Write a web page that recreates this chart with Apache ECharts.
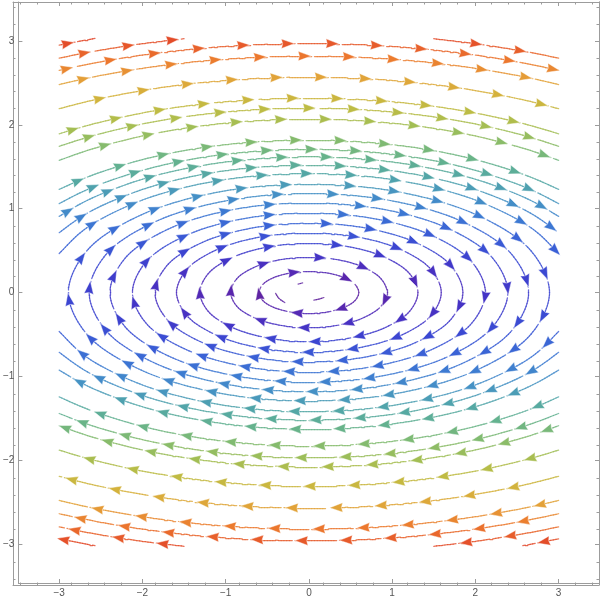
<!DOCTYPE html>
<html><head><meta charset="utf-8">
<script src="https://cdn.jsdelivr.net/npm/echarts@6/dist/echarts.min.js"></script>
<style>html,body{margin:0;padding:0;background:#fff}#c{width:600px;height:598px}</style>
</head><body><div id="c"></div>
<script>
// ---------- DATA ----------
// shared x grid for the streamlines that cross the whole plot
const XS = [-3,-2.75,-2.5,-2,-1.5,-1,-0.5,0,0.5,1,1.5,2,2.5,2.75,3];
// upper open streamlines (flow left -> right): y at XS
const upperLines = [
 [2.650,2.703,2.752,2.832,2.893,2.936,2.962,2.970,2.962,2.936,2.893,2.832,2.752,2.703,2.650],
 [2.480,2.538,2.589,2.674,2.739,2.784,2.811,2.820,2.811,2.784,2.739,2.674,2.589,2.538,2.480],
 [2.192,2.257,2.314,2.409,2.481,2.531,2.560,2.570,2.560,2.531,2.481,2.409,2.314,2.257,2.192],
 [1.893,1.967,2.033,2.141,2.221,2.276,2.309,2.320,2.309,2.276,2.221,2.141,2.033,1.967,1.893],
 [1.744,1.824,1.895,2.010,2.095,2.154,2.189,2.200,2.189,2.154,2.095,2.010,1.895,1.824,1.744],
 [1.576,1.665,1.742,1.867,1.958,2.021,2.058,2.070,2.058,2.021,1.958,1.867,1.742,1.665,1.576],
 [1.230,1.341,1.436,1.585,1.692,1.764,1.806,1.820,1.806,1.764,1.692,1.585,1.436,1.341,1.230],
 [1.060,1.188,1.294,1.457,1.573,1.650,1.695,1.710,1.695,1.650,1.573,1.457,1.294,1.188,1.060],
 [0.908,1.054,1.172,1.351,1.474,1.557,1.604,1.620,1.604,1.557,1.474,1.351,1.172,1.054,0.908],
 [0.714,0.893,1.030,1.229,1.364,1.453,1.503,1.520,1.503,1.453,1.364,1.229,1.030,0.893,0.714],
 [0.465,0.710,0.875,1.103,1.251,1.348,1.402,1.420,1.402,1.348,1.251,1.103,0.875,0.710,0.465]
];
// lower open streamlines (flow right -> left): y at XS
const lowerLines = [
 [-0.465,-0.710,-0.875,-1.103,-1.251,-1.348,-1.402,-1.420,-1.402,-1.348,-1.251,-1.103,-0.875,-0.710,-0.465],
 [-0.714,-0.893,-1.030,-1.229,-1.364,-1.453,-1.503,-1.520,-1.503,-1.453,-1.364,-1.229,-1.030,-0.893,-0.714],
 [-0.926,-1.070,-1.186,-1.363,-1.486,-1.567,-1.615,-1.630,-1.615,-1.567,-1.486,-1.363,-1.186,-1.070,-0.926],
 [-1.245,-1.355,-1.449,-1.597,-1.703,-1.775,-1.816,-1.830,-1.816,-1.775,-1.703,-1.597,-1.449,-1.355,-1.245],
 [-1.443,-1.539,-1.622,-1.755,-1.852,-1.919,-1.957,-1.970,-1.957,-1.919,-1.852,-1.755,-1.622,-1.539,-1.443],
 [-1.589,-1.677,-1.754,-1.878,-1.969,-2.031,-2.068,-2.080,-2.068,-2.031,-1.969,-1.878,-1.754,-1.677,-1.589],
 [-1.880,-1.955,-2.021,-2.130,-2.210,-2.266,-2.299,-2.310,-2.299,-2.266,-2.210,-2.130,-2.021,-1.955,-1.880],
 [-2.192,-2.257,-2.314,-2.409,-2.481,-2.531,-2.560,-2.570,-2.560,-2.531,-2.481,-2.409,-2.314,-2.257,-2.192],
 [-2.480,-2.538,-2.589,-2.674,-2.739,-2.784,-2.811,-2.820,-2.811,-2.784,-2.739,-2.674,-2.589,-2.538,-2.480],
 [-2.639,-2.692,-2.741,-2.822,-2.883,-2.926,-2.952,-2.960,-2.952,-2.926,-2.883,-2.822,-2.741,-2.692,-2.639]
];
// streamline pieces cut by the plot border (points in flow order)
const edgePieces = [
 [[-3,2.950],[-2.75,2.998],[-2.57,3.03]],
 [[-3,2.795],[-2.75,2.846],[-2.5,2.891],[-2,2.968],[-1.5,3.027]],
 [[1.5,3.027],[2,2.968],[2.5,2.891],[2.75,2.846],[3,2.795]],
 [[3,-2.938],[2.75,-2.987],[2.57,-3.02]],
 [[-2.57,-3.02],[-2.75,-2.987],[-3,-2.938]],
 [[3,-2.795],[2.75,-2.846],[2.5,-2.891],[2,-2.968],[1.5,-3.027]],
 [[-1.5,-3.027],[-2,-2.968],[-2.5,-2.891],[-2.75,-2.846],[-3,-2.795]]
];
// closed streamlines around the centre (clockwise, first point = top)
const loops = [
 [[0,0.25],[0.230,0.231],[0.424,0.177],[0.554,0.096],[0.60,0],[0.554,-0.096],[0.424,-0.177],[0.230,-0.231],[0,-0.25],[-0.230,-0.231],[-0.424,-0.177],[-0.554,-0.096],[-0.60,0],[-0.554,0.096],[-0.424,0.177],[-0.230,0.231]],
 [[0,0.42],[0.360,0.388],[0.665,0.297],[0.869,0.161],[0.94,0],[0.869,-0.161],[0.665,-0.297],[0.360,-0.388],[0,-0.42],[-0.360,-0.388],[-0.665,-0.297],[-0.869,-0.161],[-0.94,0],[-0.869,0.161],[-0.665,0.297],[-0.360,0.388]],
 [[0,0.586],[0.502,0.541],[0.926,0.414],[1.210,0.224],[1.31,0],[1.210,-0.224],[0.926,-0.414],[0.502,-0.541],[0,-0.586],[-0.502,-0.541],[-0.926,-0.414],[-1.210,-0.224],[-1.31,0],[-1.210,0.224],[-0.926,0.414],[-0.502,0.541]],
 [[0,0.711],[0.609,0.657],[1.124,0.503],[1.469,0.272],[1.59,0],[1.469,-0.272],[1.124,-0.503],[0.609,-0.657],[0,-0.711],[-0.609,-0.657],[-1.124,-0.503],[-1.469,-0.272],[-1.59,0],[-1.469,0.272],[-1.124,0.503],[-0.609,0.657]],
 [[0,0.827],[0.709,0.764],[1.308,0.585],[1.709,0.317],[1.85,0],[1.709,-0.317],[1.308,-0.585],[0.709,-0.764],[0,-0.827],[-0.709,-0.764],[-1.308,-0.585],[-1.709,-0.317],[-1.85,0],[-1.709,0.317],[-1.308,0.585],[-0.709,0.764]],
 [[0,0.948],[0.812,0.876],[1.499,0.670],[1.959,0.363],[2.12,0],[1.959,-0.363],[1.499,-0.670],[0.812,-0.876],[0,-0.948],[-0.812,-0.876],[-1.499,-0.670],[-1.959,-0.363],[-2.12,0],[-1.959,0.363],[-1.499,0.670],[-0.812,0.876]],
 [[0,1.069],[0.915,0.988],[1.690,0.756],[2.208,0.409],[2.39,0],[2.208,-0.409],[1.690,-0.756],[0.915,-0.988],[0,-1.069],[-0.915,-0.988],[-1.690,-0.756],[-2.208,-0.409],[-2.39,0],[-2.208,0.409],[-1.690,0.756],[-0.915,0.988]],
 [[0,1.181],[1.011,1.091],[1.866,0.835],[2.439,0.452],[2.64,0],[2.439,-0.452],[1.866,-0.835],[1.011,-1.091],[0,-1.181],[-1.011,-1.091],[-1.866,-0.835],[-2.439,-0.452],[-2.64,0],[-2.439,0.452],[-1.866,0.835],[-1.011,1.091]],
 [[0,1.292],[1.107,1.194],[2.043,0.913],[2.670,0.495],[2.89,0],[2.670,-0.495],[2.043,-0.913],[1.107,-1.194],[0,-1.292],[-1.107,-1.194],[-2.043,-0.913],[-2.670,-0.495],[-2.89,0],[-2.670,0.495],[-2.043,0.913],[-1.107,1.194]]
];
// tiny fragments close to the centre
const centreBits = [
 [[-0.29,-0.12],[-0.36,-0.07],[-0.40,-0.01]],
 [[-0.13,0.10],[-0.075,0.115]],
 [[0.18,-0.06],[0.12,-0.08],[0.06,-0.09]]
];
// axis ticks
const majorTicks = [-3,-2,-1,0,1,2,3];
const minorTicks = [-3.4,-3.2,-2.8,-2.6,-2.4,-2.2,-1.8,-1.6,-1.4,-1.2,-0.8,-0.6,-0.4,-0.2,0.2,0.4,0.6,0.8,1.2,1.4,1.6,1.8,2.2,2.4,2.6,2.8,3.2,3.4];
// colour by speed (rainbow)
const colourStops = [
 [0.00,'#6a2390'],[0.15,'#5c24a8'],[0.30,'#4f2cbb'],[0.45,'#4236c8'],[0.60,'#3b48d2'],
 [0.80,'#3a62d6'],[1.00,'#3d7bd2'],[1.20,'#4693c4'],[1.40,'#52a6a8'],[1.60,'#64b28e'],
 [1.80,'#82bb70'],[2.00,'#a1be55'],[2.20,'#bebc44'],[2.40,'#d5b23c'],[2.60,'#e4a038'],
 [2.80,'#ec7a2e'],[3.00,'#e5522a'],[3.10,'#df3f28']
];

// ---------- rendering helpers ----------
const PX = 84.1, SP = 45;
function hex(c){return [parseInt(c.substr(1,2),16),parseInt(c.substr(3,2),16),parseInt(c.substr(5,2),16)];}
function colourAt(s){
  if (s <= colourStops[0][0]) return colourStops[0][1];
  for (let i=1;i<colourStops.length;i++){
    if (s <= colourStops[i][0]){
      const [s0,c0]=colourStops[i-1],[s1,c1]=colourStops[i];
      const t=(s-s0)/(s1-s0), a=hex(c0), b=hex(c1);
      return 'rgb('+a.map((v,k)=>Math.round(v+(b[k]-v)*t)).join(',')+')';
    }
  }
  return colourStops[colourStops.length-1][1];
}
function speed(p){return Math.sqrt(p[1]*p[1]+0.04*p[0]*p[0]);}
function spline(P, closed){
  const n=P.length, out=[];
  const get=i=>{
    if (closed) return P[((i%n)+n)%n];
    if (i<0) return [2*P[0][0]-P[1][0],2*P[0][1]-P[1][1]];
    if (i>=n) return [2*P[n-1][0]-P[n-2][0],2*P[n-1][1]-P[n-2][1]];
    return P[i];
  };
  const d=(a,b)=>Math.max(1e-6,Math.sqrt(Math.hypot(b[0]-a[0],b[1]-a[1])));
  const segs=closed?n:n-1;
  for (let i=0;i<segs;i++){
    const p0=get(i-1),p1=get(i),p2=get(i+1),p3=get(i+2);
    const t0=0,t1=d(p0,p1),t2=t1+d(p1,p2),t3=t2+d(p2,p3);
    const steps=Math.max(2,Math.ceil(Math.hypot(p2[0]-p1[0],p2[1]-p1[1])*PX/3));
    for (let k=0;k<steps;k++){
      const t=t1+(t2-t1)*k/steps;
      const L=(a,b,ta,tb)=>[(tb-t)/(tb-ta)*a[0]+(t-ta)/(tb-ta)*b[0],(tb-t)/(tb-ta)*a[1]+(t-ta)/(tb-ta)*b[1]];
      const A1=L(p0,p1,t0,t1),A2=L(p1,p2,t1,t2),A3=L(p2,p3,t2,t3);
      const B1=L(A1,A2,t0,t2),B2=L(A2,A3,t1,t3);
      out.push(L(B1,B2,t1,t2));
    }
  }
  out.push(closed?P[0]:P[n-1]);
  return out;
}

const segData=[], arrowData=[];
function addStream(P, closed, idx, withArrows){
  const pts=spline(P, closed);
  const s=[0];
  for (let i=1;i<pts.length;i++) s.push(s[i-1]+Math.hypot(pts[i][0]-pts[i-1][0],pts[i][1]-pts[i-1][1])*PX);
  const total=s[s.length-1];
  const arrows=[];
  if (withArrows && total>20){
    const phase=8+((idx*0.381966)%1)*SP;
    for (let a=phase;a<total-4;a+=SP) arrows.push(a);
  }
  for (let i=1;i<pts.length;i++){
    const mid=(s[i]+s[i-1])/2;
    if (arrows.some(a=>mid>a+6.5 && mid<a+9.5)) continue;
    const m=[(pts[i][0]+pts[i-1][0])/2,(pts[i][1]+pts[i-1][1])/2];
    segData.push({coords:[pts[i-1],pts[i]],lineStyle:{color:colourAt(speed(m))}});
  }
  let j=0;
  arrows.forEach(a=>{
    while (j<s.length-2 && s[j+1]<a) j++;
    const t=(a-s[j])/Math.max(1e-9,s[j+1]-s[j]);
    const p=[pts[j][0]+(pts[j+1][0]-pts[j][0])*t, pts[j][1]+(pts[j+1][1]-pts[j][1])*t];
    const q0=pts[Math.max(0,j-1)], q1=pts[Math.min(pts.length-1,j+2)];
    const ang=Math.atan2(q1[1]-q0[1], q1[0]-q0[0])*180/Math.PI;
    arrowData.push({value:p, symbolRotate:ang, itemStyle:{color:colourAt(speed(p))}});
  });
}
let idx=0;
upperLines.forEach(ys=>addStream(XS.map((x,i)=>[x,ys[i]]), false, idx++, true));
lowerLines.forEach(ys=>addStream(XS.map((x,i)=>[x,ys[i]]).reverse(), false, idx++, true));
edgePieces.forEach(P=>addStream(P, false, idx++, true));
loops.forEach(P=>addStream(P, true, idx++, true));
centreBits.forEach(P=>addStream(P, false, idx++, false));

const fmt=v=>v<0?'\u2212'+(-v):String(v);
const AX='#9c9c9c';
function xAx(grid,pos,vals,len,lab){
  return {type:'value',gridIndex:grid,position:pos,min:-3.49,max:3.485,
    axisLine:{show:true,onZero:false,lineStyle:{color:AX,width:1}},
    axisTick:{show:true,inside:true,length:len,customValues:vals,lineStyle:{color:AX}},
    axisLabel:lab?{show:true,customValues:vals,formatter:fmt,color:'#555',fontSize:10,margin:5,fontFamily:'Liberation Sans, Arial, sans-serif'}:{show:false},
    splitLine:{show:false}};
}
function yAx(grid,pos,vals,len,lab){
  return {type:'value',gridIndex:grid,position:pos,min:-3.465,max:3.465,
    axisLine:{show:true,onZero:false,lineStyle:{color:AX,width:1}},
    axisTick:{show:true,inside:true,length:len,customValues:vals,lineStyle:{color:AX}},
    axisLabel:lab?{show:true,customValues:vals,formatter:fmt,color:'#555',fontSize:10,margin:4,fontFamily:'Liberation Sans, Arial, sans-serif'}:{show:false},
    splitLine:{show:false}};
}
const G={left:13,top:2,width:586,height:583};
const chart=echarts.init(document.getElementById('c'),null,{renderer:'canvas'});
chart.setOption({
  animation:false,
  backgroundColor:'#fff',
  grid:[Object.assign({},G),Object.assign({},G)],
  xAxis:[xAx(0,'bottom',majorTicks,4,true),xAx(0,'top',majorTicks,4,false),xAx(1,'bottom',minorTicks,2.5,false),xAx(1,'top',minorTicks,2.5,false)],
  yAxis:[yAx(0,'left',majorTicks,4,true),yAx(0,'right',majorTicks,4,false),yAx(1,'left',minorTicks,2.5,false),yAx(1,'right',minorTicks,2.5,false)],
  series:[
    {type:'lines',coordinateSystem:'cartesian2d',xAxisIndex:0,yAxisIndex:0,polyline:false,silent:true,
     lineStyle:{width:1.25,opacity:0.8,cap:'round'},data:segData,z:2},
    {type:'scatter',xAxisIndex:0,yAxisIndex:0,silent:true,
     symbol:'path://M0,0 L12,4.5 L0,9 L1.2,4.5 Z',symbolSize:[13,9.5],
     itemStyle:{opacity:1,borderColor:'rgba(255,255,255,0.7)',borderWidth:0.6},
     data:arrowData,z:3}
  ]
});
</script></body></html>
